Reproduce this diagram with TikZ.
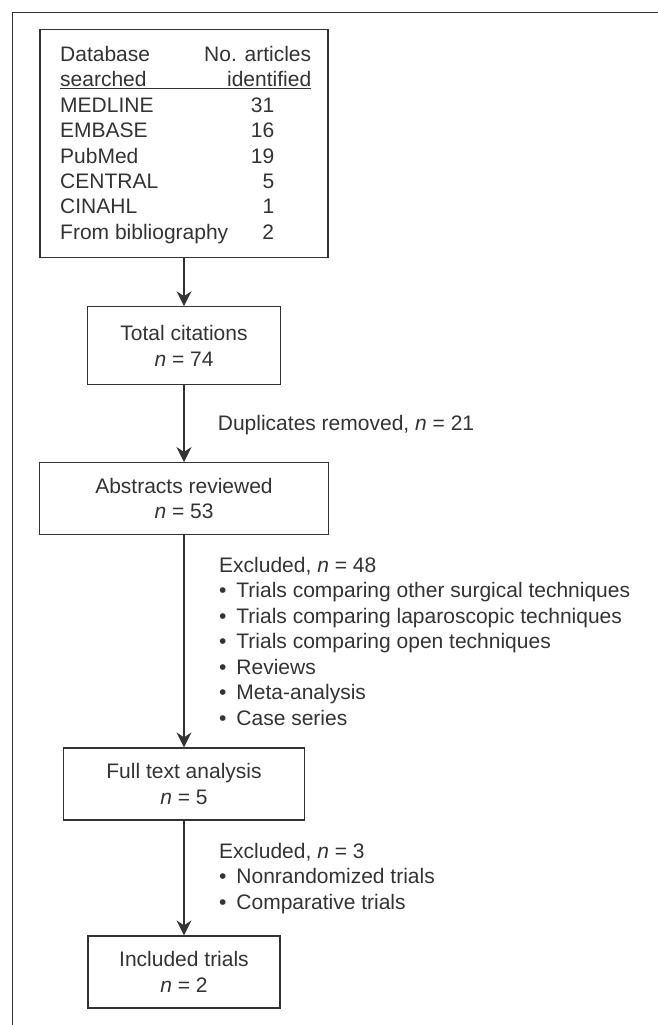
\documentclass[tikz,border=0pt]{standalone}
\usepackage{fontspec}
\setmainfont{Liberation Sans}
\usepackage{xcolor}
\usetikzlibrary{arrows.meta}
\definecolor{inkgray}{HTML}{333333}
\newcommand{\blt}{\textbullet\hspace{0.47em}}

\begin{document}
\begin{tikzpicture}[x=1pt,y=-1pt,
    every node/.style={font=\fontsize{21}{25.5}\selectfont, text=inkgray},
    stage/.style={draw=inkgray, line width=1.2pt, align=center, inner sep=0pt},
    note/.style={align=left, inner sep=0pt, anchor=north west},
    flow/.style={draw=inkgray, line width=1.2pt, -{Stealth[length=15pt,width=15pt,inset=5pt]}}]
\useasboundingbox (0,0) rectangle (658,1025);
\draw[inkgray, line width=1.5pt] (12.3,1025) -- (12.3,12.7) -- (658,12.7);
\node[stage, minimum width=288pt, minimum height=228pt] (db) at (184,143.8) {};
\node[note, font=\fontsize{21}{25.4}\selectfont] (dblist) at (60,46) {\makebox[251pt]{Database\hfill No. articles}\\
    \rlap{\rule[-2pt]{251pt}{1pt}}\makebox[251pt]{searched\hfill identified}\\
    \makebox[214pt]{MEDLINE\hfill 31}\\
    \makebox[214pt]{EMBASE\hfill 16}\\
    \makebox[214pt]{PubMed\hfill 19}\\
    \makebox[214pt]{CENTRAL\hfill 5}\\
    \makebox[214pt]{CINAHL\hfill 1}\\
    \makebox[214pt]{From bibliography\hfill 2}};
\node[stage, minimum width=193pt, minimum height=78pt] (total) at (184,345.8) {Total citations\\ \textit{n} = 74};
\node[stage, minimum width=289pt, minimum height=72pt] (abstracts) at (184,498.6) {Abstracts reviewed\\ \textit{n} = 53};
\node[stage, minimum width=241pt, minimum height=72pt] (fulltext) at (184,784) {Full text analysis\\ \textit{n} = 5};
\node[stage, minimum width=192pt, minimum height=72pt] (included) at (184,972) {Included trials\\ \textit{n} = 2};
\node[anchor=base west, inner sep=0pt] (dup) at (217.7,430) {Duplicates removed, \textit{n} = 21};
\node[note] (excl1) at (219,557) {Excluded, \textit{n} = 48\\
    \blt Trials comparing other surgical techniques\\
    \blt Trials comparing laparoscopic techniques\\
    \blt Trials comparing open techniques\\
    \blt Reviews\\
    \blt Meta-analysis\\
    \blt Case series};
\node[note] (excl2) at (219,843) {Excluded, \textit{n} = 3\\
    \blt Nonrandomized trials\\
    \blt Comparative trials};
\draw[flow] (db) -- (total);
\draw[flow] (total) -- (abstracts);
\draw[flow] (abstracts) -- (fulltext);
\draw[flow] (fulltext) -- (included);
\end{tikzpicture}
\end{document}
